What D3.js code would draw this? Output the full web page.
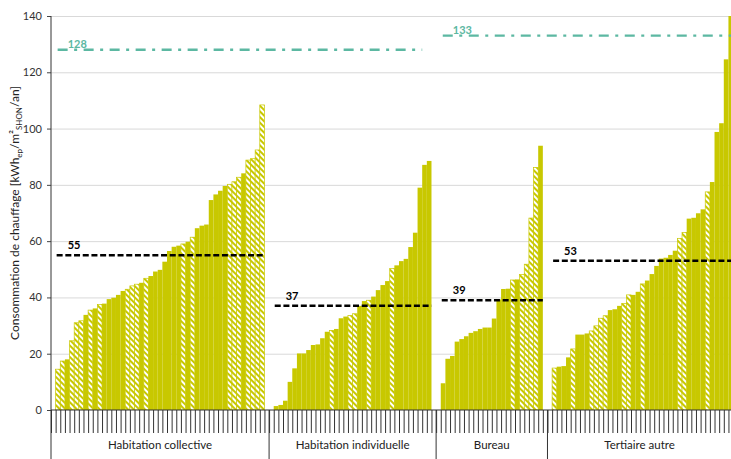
<!DOCTYPE html>
<html>
<head>
<meta charset="utf-8">
<script src="https://cdn.jsdelivr.net/npm/d3@7"></script>
<style>
  body { margin: 0; background: #fff; }
  text { font-family: Lato, "Open Sans", sans-serif; }
</style>
</head>
<body>
<div id="chart"></div>
<script>
// groupes de bâtiments
var groups = ["Habitation collective", "Habitation individuelle", "Bureau", "Tertiaire autre"];

// consommations triées par groupe (kWhep/m²SHON/an)
var habColl = [14.5, 17.4, 18.0, 24.6, 31.0, 31.7, 33.8, 35.5, 36.1, 37.5,
               37.8, 39.4, 39.9, 40.9, 42.3, 42.9, 44.1, 44.7, 45.2, 46.8,
               47.6, 49.2, 49.8, 52.7, 56.5, 58.0, 58.4, 59.0, 59.8, 61.4,
               64.6, 65.5, 65.9, 74.6, 76.6, 77.9, 79.6, 80.2, 81.1, 82.7,
               84.1, 88.8, 89.3, 92.4, 108.4];
var habCollHatch = [1,1,0,1,1,1,0,1,0,1, 0,0,0,0,0,1,1,1,0,1,
                    0,0,0,0,0,0,0,1,0,1, 0,0,0,0,0,0,0,1,1,1, 0,1,1,1,1];

var habInd = [1.4, 1.8, 3.3, 10.0, 14.8, 20.1, 20.1, 21.3, 23.1, 23.3,
              25.5, 27.8, 28.3, 28.8, 32.6, 33.2, 33.6, 34.2, 37.0, 38.7,
              39.0, 40.3, 42.6, 44.4, 45.8, 50.3, 51.4, 52.9, 53.7, 57.9,
              63.0, 79.0, 87.1, 88.5];
var habIndHatch = [0,0,0,0,0,0,0,0,0,0, 0,0,1,0,0,0,1,1,0,0,
                   1,0,0,0,0,1,0,0,0,0, 0,0,0,0];

var bureau = [9.5, 18.2, 19.2, 24.3, 25.2, 26.2, 27.4, 28.0, 28.8, 29.3,
              29.3, 32.5, 39.3, 43.0, 43.1, 46.2, 46.4, 48.1, 51.8, 68.2,
              86.2, 93.9];
var bureauHatch = [0,0,0,0,0,0,0,0,0,0, 0,0,0,0,0,1,0,1,1,1, 1,0];

var tertiaire = [14.9, 15.4, 15.6, 18.7, 21.7, 26.8, 26.8, 27.2, 28.1, 29.9,
                 32.6, 33.5, 35.5, 35.8, 37.0, 37.9, 40.9, 40.9, 42.0, 44.8,
                 46.0, 48.3, 51.2, 53.8, 54.1, 55.1, 56.6, 61.0, 63.1, 68.0,
                 68.3, 69.9, 71.3, 77.5, 81.0, 98.8, 101.9, 124.6, 150];
var tertiaireHatch = [1,0,0,0,1,0,0,0,1,1, 1,1,0,0,0,1,1,0,0,1,
                      0,0,0,0,0,0,0,1,1,0, 0,0,0,1,0,0,0,0,0];

// moyennes par groupe
var groupMeans = [55, 37, 39, 53];
// seuils (habitation / tertiaire)
var thresholds = [128, 133];
var thresholdGroups = [[0, 1], [2, 3]];

var yTicks = [0, 20, 40, 60, 80, 100, 120, 140];

var values = [habColl, habInd, bureau, tertiaire];
var hatches = [habCollHatch, habIndHatch, bureauHatch, tertiaireHatch];

var barColor = "#c8c800";
var teal = "#5cb8a2";

var width = 731, height = 459;
var margin = {top: 16, left: 51, bottom: 49};
var step = 4.64;

// une catégorie vide au début et à la fin de chaque groupe
var slots = [];
var bars = [];
groups.forEach(function(g, gi) {
    slots.push(gi + "-a");
    values[gi].forEach(function(v, i) {
        var id = gi + "-" + i;
        slots.push(id);
        bars.push({id: id, group: gi, value: v, hatch: hatches[gi][i] === 1});
    });
    slots.push(gi + "-z");
});

var svg = d3.select("#chart")
  .append("svg")
    .attr("width", width)
    .attr("height", height);

var x = d3.scaleBand()
    .domain(slots)
    .range([margin.left, margin.left + slots.length * step])
    .padding(0);

var xi = d3.scaleLinear()
    .domain([0, slots.length])
    .range([margin.left, margin.left + slots.length * step]);

var y = d3.scaleLinear()
    .domain([0, 140])
    .range([height - margin.bottom - 0, margin.top]);

var defs = svg.append("defs");
var pat = defs.append("pattern")
    .attr("id", "hatch")
    .attr("patternUnits", "userSpaceOnUse")
    .attr("width", 4)
    .attr("height", 4)
    .attr("patternTransform", "rotate(-45)");
pat.append("rect").attr("width", 4).attr("height", 4).attr("fill", "#fff");
pat.append("rect").attr("width", 2).attr("height", 4).attr("fill", barColor);

defs.append("clipPath")
    .attr("id", "clip")
  .append("rect")
    .attr("x", margin.left)
    .attr("y", y(140))
    .attr("width", width - margin.left)
    .attr("height", y(0) - y(140));

// grille horizontale
svg.append("g")
    .attr("transform", "translate(" + margin.left + ",0)")
    .call(d3.axisLeft(y).tickValues(yTicks.slice(1)).tickSize(-(width - margin.left)).tickFormat(""))
    .call(function(g) { g.select(".domain").remove(); })
    .selectAll("line")
      .attr("stroke", "#d9d9d9")
      .attr("stroke-width", 1);

// barres
svg.append("g")
    .attr("clip-path", "url(#clip)")
  .selectAll("rect")
  .data(bars)
  .enter()
  .append("rect")
    .attr("x", function(d) { return x(d.id); })
    .attr("width", x.bandwidth())
    .attr("y", function(d) { return y(d.value); })
    .attr("height", function(d) { return y(0) - y(d.value); })
    .attr("fill", function(d) { return d.hatch ? "url(#hatch)" : barColor; })
    .attr("stroke", function(d) { return d.hatch ? barColor : "none"; })
    .attr("stroke-width", 0.7);

// axe Y
var yAxis = svg.append("g")
    .attr("transform", "translate(" + margin.left + ",0)")
    .call(d3.axisLeft(y).tickValues(yTicks).tickSize(4).tickPadding(5));
yAxis.select(".domain").remove();
yAxis.selectAll("line").attr("stroke", "#444");
yAxis.selectAll("text")
    .style("font-size", "11px")
    .style("font-family", "Lato, sans-serif")
    .attr("fill", "#333");

svg.append("line")
    .attr("x1", margin.left).attr("x2", margin.left)
    .attr("y1", y(140)).attr("y2", height)
    .attr("stroke", "#333").attr("stroke-width", 1);

// axe X : graduations à chaque catégorie
var xAxis = svg.append("g")
    .attr("transform", "translate(0," + y(0) + ")")
    .call(d3.axisBottom(xi).tickValues(d3.range(slots.length + 1)).tickSize(23).tickFormat(""));
xAxis.select(".domain").remove();
xAxis.selectAll("line").attr("stroke", "#333").attr("stroke-width", 1);

svg.append("line")
    .attr("x1", margin.left).attr("x2", width)
    .attr("y1", y(0)).attr("y2", y(0))
    .attr("stroke", "#333").attr("stroke-width", 1.2);

// séparateurs de groupes et libellés
groups.forEach(function(g, gi) {
    var x0 = x(gi + "-a");
    var x1 = x(gi + "-z") + x.bandwidth();
    if (gi > 0) {
        svg.append("line")
            .attr("x1", x0).attr("x2", x0)
            .attr("y1", y(0)).attr("y2", height)
            .attr("stroke", "#333").attr("stroke-width", 1);
    }
    var cx = (x0 + Math.min(x1, width)) / 2;
    if (gi === 3) cx = (x0 + x1) / 2 - 3;
    svg.append("text")
        .attr("x", cx)
        .attr("y", height - 10)
        .attr("text-anchor", "middle")
        .style("font-size", "11.5px")
        .attr("fill", "#222")
        .text(g);
});

// moyennes par groupe
groupMeans.forEach(function(m, gi) {
    var first = x(gi + "-0");
    var last = x(gi + "-" + (values[gi].length - 1)) + x.bandwidth();
    svg.append("line")
        .attr("x1", first + 1).attr("x2", last)
        .attr("y1", y(m)).attr("y2", y(m))
        .attr("stroke", "#000")
        .attr("stroke-width", 2.5)
        .attr("stroke-dasharray", "6,2.7");
    svg.append("text")
        .attr("x", first + 12)
        .attr("y", y(m) - 6)
        .style("font-size", "11px")
        .style("font-weight", "bold")
        .attr("fill", "#000")
        .text(m);
});

// seuils
thresholds.forEach(function(t, ti) {
    var ga = thresholdGroups[ti][0], gb = thresholdGroups[ti][1];
    var first = x(ga + "-0");
    var last = x(gb + "-" + (values[gb].length - 1)) + x.bandwidth();
    if (ti === 0) last = x(gb + "-" + (values[gb].length - 2));
    svg.append("line")
        .attr("x1", first + 2).attr("x2", last)
        .attr("y1", y(t)).attr("y2", y(t))
        .attr("stroke", teal)
        .attr("stroke-width", 2.3)
        .attr("stroke-dasharray", "10,6.5,3,6.5");
    svg.append("text")
        .attr("x", first + 12)
        .attr("y", y(t) - 2)
        .style("font-size", "11px")
        .style("font-weight", "bold")
        .attr("fill", teal)
        .text(t);
});

// titre de l'axe Y
var yt = svg.append("text")
    .attr("transform", "translate(19," + ((y(0) + y(140)) / 2) + ") rotate(-90)")
    .attr("text-anchor", "middle")
    .style("font-size", "12px")
    .attr("fill", "#222");
yt.append("tspan").text("Consommation de chauffage [kWh");
yt.append("tspan").attr("dy", 3).style("font-size", "8px").text("ep");
yt.append("tspan").attr("dy", -3).text("/m²");
yt.append("tspan").attr("dy", 3).style("font-size", "8px").text("SHON");
yt.append("tspan").attr("dy", -3).text("/an]");
</script>
</body>
</html>
